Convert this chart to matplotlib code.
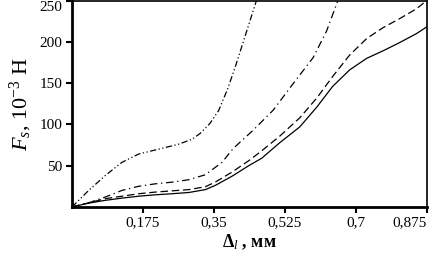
import matplotlib
matplotlib.use("Agg")
import matplotlib.pyplot as plt

plt.rcParams['font.family'] = ['Liberation Serif', 'DejaVu Serif']
plt.rcParams['mathtext.fontset'] = 'custom'
plt.rcParams['mathtext.rm'] = 'Liberation Serif'
plt.rcParams['mathtext.it'] = 'Liberation Serif:italic'
plt.rcParams['mathtext.bf'] = 'Liberation Serif:bold'

# Data (x in mm, F in 10^-3 N)
x_solid = [0, 0.041, 0.082, 0.123, 0.164, 0.205, 0.246, 0.288, 0.329, 0.353, 0.394, 0.436, 0.468,
           0.513, 0.562, 0.604, 0.643, 0.685, 0.727, 0.767, 0.808, 0.850, 0.875]
y_solid = [0, 4.6, 8, 10.7, 13, 14.7, 16, 17.5, 21, 26, 37, 50, 59,
           78, 97, 121, 146, 166, 180, 189, 199, 210, 218]

x_dash = [0, 0.041, 0.082, 0.123, 0.164, 0.205, 0.246, 0.288, 0.329, 0.353, 0.394, 0.436, 0.468,
          0.513, 0.562, 0.604, 0.643, 0.685, 0.727, 0.767, 0.808, 0.850, 0.875]
y_dash = [0, 5, 10, 13, 16, 18, 19.5, 21, 24.5, 30, 42, 56, 68,
          86, 108, 132, 158, 184, 204, 217, 228, 240, 250]

x_dashdot = [0, 0.041, 0.082, 0.123, 0.164, 0.205, 0.246, 0.288, 0.329, 0.370, 0.398, 0.447,
             0.496, 0.545, 0.595, 0.628, 0.656]
y_dashdot = [0, 5, 12, 20, 25, 28, 30, 33, 39, 54, 71, 93,
             117, 149, 181, 213, 250]

x_dashdotdot = [0, 0.041, 0.082, 0.123, 0.164, 0.197, 0.230, 0.263, 0.296, 0.316, 0.340, 0.362,
                0.384, 0.405, 0.431, 0.455]
y_dashdotdot = [0, 20, 38, 54, 64, 68, 72, 76, 82, 89, 101, 117,
                143, 173, 213, 250]

xticks = [0.175, 0.35, 0.525, 0.7, 0.875]
xtick_labels = ['0,175', '0,35', '0,525', '0,7', '0,875']
yticks = [50, 100, 150, 200, 250]
ytick_labels = ['50', '100', '150', '200', '250']

fig = plt.figure(figsize=(4.32, 2.60), dpi=100)
ax = fig.add_axes([0.1667, 0.204, 0.821, 0.794])

lw = 0.9
ax.plot(x_solid, y_solid, color='black', lw=lw, linestyle='-')
ax.plot(x_dash, y_dash, color='black', lw=lw, linestyle=(0, (6, 3)))
ax.plot(x_dashdot, y_dashdot, color='black', lw=lw, linestyle=(0, (6, 3, 1, 3)))
ax.plot(x_dashdotdot, y_dashdotdot, color='black', lw=lw, linestyle=(0, (5, 2, 1, 2, 1, 2)))

ax.set_xlim(0, 0.875)
ax.set_ylim(0, 250)
ax.set_xticks(xticks)
ax.set_xticklabels(xtick_labels)
ax.set_yticks(yticks)
ax.set_yticklabels(ytick_labels)
ax.tick_params(direction='out', length=4, width=1.5, labelsize=11, pad=3)
for lab in ax.get_yticklabels():
    if lab.get_text() == '250':
        lab.set_va('top')
for lab in ax.get_xticklabels():
    if lab.get_text() == '0,875':
        lab.set_ha('right')
for s in ['left', 'bottom']:
    ax.spines[s].set_linewidth(2)
for s in ['top', 'right']:
    ax.spines[s].set_linewidth(1.2)

ax.set_ylabel(r'$F_s$, 10$^{-3}$ Н', fontsize=16, labelpad=4)
ax.set_xlabel(r'$\mathbf{\Delta}_{l}$ , мм', fontsize=13, fontweight='bold', labelpad=2)

fig.savefig('out.png', dpi=100)
